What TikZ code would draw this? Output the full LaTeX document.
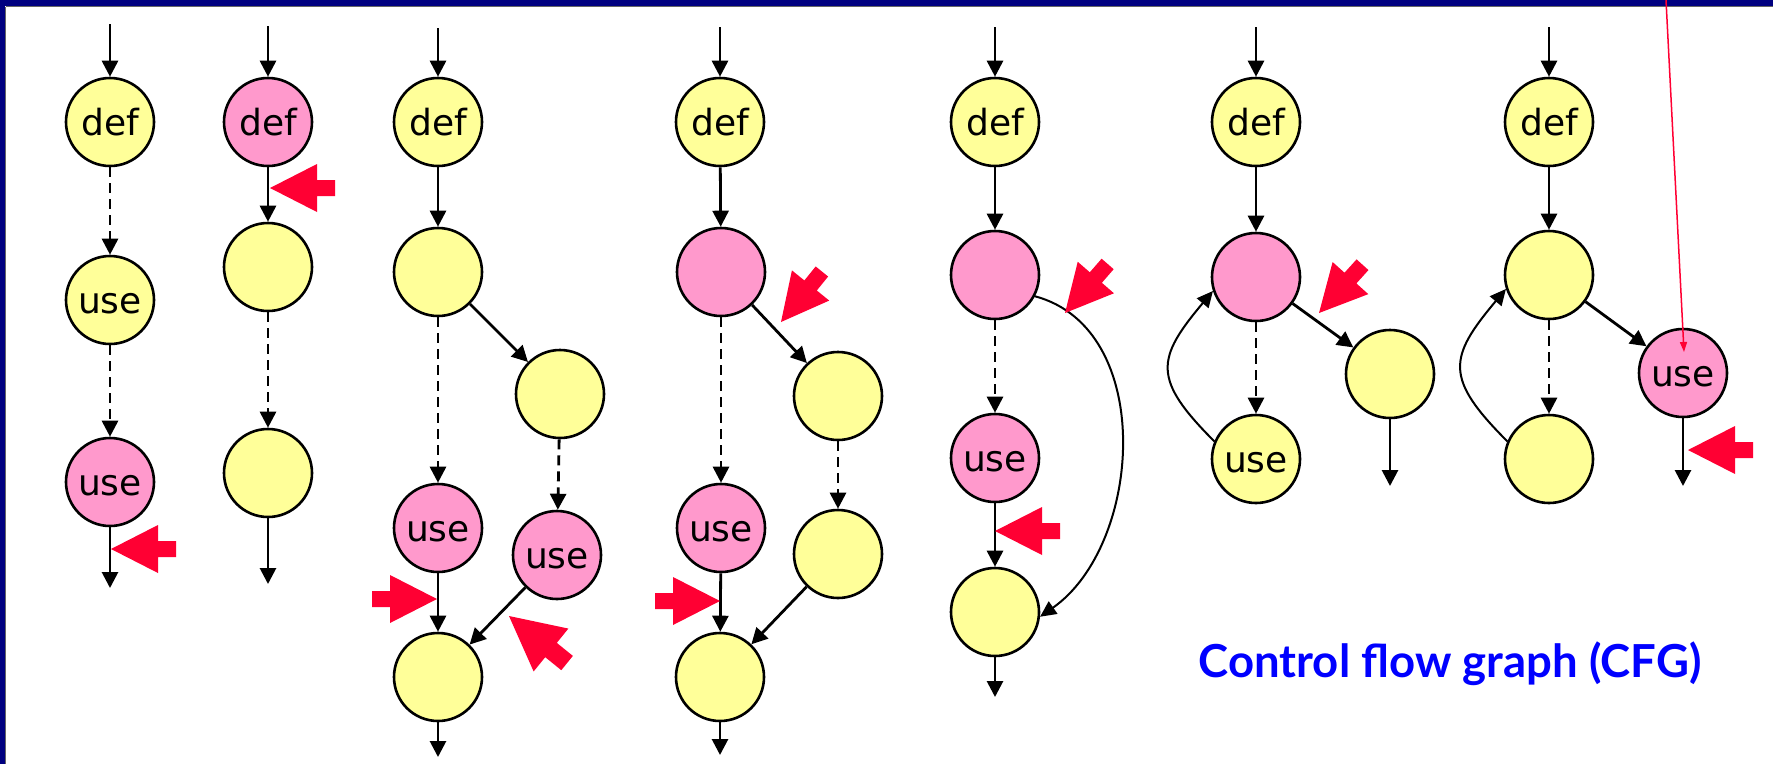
\documentclass[tikz,border=0pt]{standalone}
\usepackage{fontspec}
\usetikzlibrary{arrows.meta}
\newfontfamily\lblfont{DejaVu Sans}
\newfontfamily\capfont{Lato}
\definecolor{nodeyellow}{HTML}{FFFF99}
\definecolor{nodepink}{HTML}{FF99CC}
\definecolor{hintred}{HTML}{FF0033}
\definecolor{framenavy}{HTML}{000080}
\definecolor{captionblue}{HTML}{0000FF}
\tikzset{
  vtx/.style={circle, draw=black, line width=2.6pt, minimum size=88pt, inner sep=0pt,
    font=\lblfont\fontsize{36}{40}\selectfont, text height=27pt, text depth=0pt},
  yel/.style={vtx, fill=nodeyellow},
  pnk/.style={vtx, fill=nodepink},
  flow/.style={line width=2.8pt, -{Triangle[length=16pt,width=16pt]}},
  maybe/.style={flow, dash pattern=on 10pt off 6pt},
  backedge/.style={line width=2pt, -{Triangle[length=16pt,width=15pt]}},
  hint/.style={fill=hintred},
}
% red block arrow: tip at (#2,#3), pointing in direction #4 (degrees), optional scale #1
\newcommand\hintarrow[4][1]{%
  \fill[hint, shift={(#2,#3)}, rotate=#4, scale=#1]
    (0,0) -- (-47,24) -- (-47,8) -- (-65,8) -- (-65,-8) -- (-47,-8) -- (-47,-24) -- cycle;}
\begin{document}
\begin{tikzpicture}[x=1pt, y=-1pt]
\useasboundingbox (0,0) rectangle (1773,764);
\fill[white] (0,0) rectangle (1773,764);
% slide frame
\fill[framenavy] (0,0) rectangle (1773,6);
\fill[framenavy] (0,0) rectangle (5,764);
\draw[black!60, line width=1pt] (5.5,6.5) -- (1773,6.5);
\draw[black!60, line width=1pt] (5.5,6.5) -- (5.5,764);

% ---- graph 1: def -> use -> use
\coordinate (g1in) at (110,24);
\coordinate (g1out) at (110,588);
\node[yel] (g1a) at (110,122) {def};
\node[yel] (g1b) at (110,300) {use};
\node[pnk] (g1c) at (110,482) {use};
\draw[flow] (g1in) -- (g1a);
\draw[maybe] (g1a) -- (g1b);
\draw[maybe] (g1b) -- (g1c);
\draw[flow] (g1c) -- (g1out);
\hintarrow{111}{549}{180}

% ---- graph 2: redefinition
\coordinate (g2in) at (268,26);
\coordinate (g2out) at (268,584);
\node[pnk] (g2a) at (268,122) {def};
\node[yel] (g2b) at (268,267) {};
\node[yel] (g2c) at (268,473) {};
\draw[flow] (g2in) -- (g2a);
\draw[flow] (g2a) -- (g2b);
\draw[maybe] (g2b) -- (g2c);
\draw[flow] (g2c) -- (g2out);
\hintarrow{270}{188}{180}

% ---- graph 3: branch and join, both uses
\coordinate (g3in) at (438,28);
\coordinate (g3out) at (438,757);
\node[yel] (g3a) at (438,122) {def};
\node[yel] (g3b) at (438,272) {};
\node[yel] (g3r) at (560,394) {};
\node[pnk] (g3u) at (438,528) {use};
\node[pnk] (g3v) at (557,555) {use};
\node[yel] (g3j) at (438,677) {};
\draw[flow] (g3in) -- (g3a);
\draw[flow] (g3a) -- (g3b);
\draw[flow] (g3b) -- (g3r);
\draw[maybe] (g3b) -- (g3u);
\draw[maybe] (g3r) -- (g3v);
\draw[flow] (g3u) -- (g3j);
\draw[flow] (g3v) -- (g3j);
\draw[flow] (g3j) -- (g3out);
\hintarrow{437}{599}{0}
\hintarrow[1.15]{509}{616}{141}

% ---- graph 4: branch and join, one use
\coordinate (g4in) at (720,27);
\coordinate (g4out) at (720,755);
\node[yel] (g4a) at (720,122) {def};
\node[pnk] (g4b) at (721,272) {};
\node[yel] (g4r) at (838,396) {};
\node[pnk] (g4u) at (721,528) {use};
\node[yel] (g4v) at (838,554) {};
\node[yel] (g4j) at (720,677) {};
\draw[flow] (g4in) -- (g4a);
\draw[flow] (g4a) -- (g4b);
\draw[flow] (g4b) -- (g4r);
\draw[maybe] (g4b) -- (g4u);
\draw[maybe] (g4r) -- (g4v);
\draw[flow] (g4u) -- (g4j);
\draw[flow] (g4v) -- (g4j);
\draw[flow] (g4j) -- (g4out);
\hintarrow{720}{601}{0}
\hintarrow{781}{322}{231}

% ---- graph 5: bypass edge
\coordinate (g5in) at (995,27);
\coordinate (g5out) at (995,697);
\node[yel] (g5a) at (995,122) {def};
\node[pnk] (g5b) at (995,275) {};
\node[pnk] (g5u) at (995,458) {use};
\node[yel] (g5j) at (995,612) {};
\draw[flow] (g5in) -- (g5a);
\draw[flow] (g5a) -- (g5b);
\draw[maybe] (g5b) -- (g5u);
\draw[flow] (g5u) -- (g5j);
\draw[backedge] (g5b.-28) to[out=-15, in=35] (g5j.-6);
\draw[flow] (g5j) -- (g5out);
\hintarrow{995}{531}{180}
\hintarrow{1065}{313}{229}

% ---- graph 6: loop with use in body
\coordinate (g6in) at (1256,27);
\coordinate (g6out) at (1390,486);
\node[yel] (g6a) at (1256,122) {def};
\node[pnk] (g6b) at (1256,277) {};
\node[yel] (g6r) at (1390,374) {};
\node[yel] (g6u) at (1256,459) {use};
\draw[flow] (g6in) -- (g6a);
\draw[flow] (g6a) -- (g6b);
\draw[flow] (g6b) -- (g6r);
\draw[maybe] (g6b) -- (g6u);
\draw[backedge] (g6u.157) to[out=135, in=-130, looseness=1.5] (g6b.198);
\draw[flow] (g6r) -- (g6out);
\hintarrow{1319}{313}{228}

% ---- graph 7: loop with use at exit
\coordinate (g7in) at (1549,27);
\coordinate (g7out) at (1683,486);
\node[yel] (g7a) at (1549,122) {def};
\node[yel] (g7b) at (1549,275) {};
\node[pnk] (g7r) at (1683,373) {use};
\node[yel] (g7u) at (1549,459) {};
\draw[flow] (g7in) -- (g7a);
\draw[flow] (g7a) -- (g7b);
\draw[flow] (g7b) -- (g7r);
\draw[maybe] (g7b) -- (g7u);
\draw[backedge] (g7u.157) to[out=135, in=-130, looseness=1.5] (g7b.198);
\draw[flow] (g7r) -- (g7out);
\hintarrow{1688}{450}{180}

% thin pointer coming in from above
\coordinate (ptrtop) at (1666,0);
\coordinate (ptrtip) at (1684,352);
\draw[hintred, line width=1.5pt, -{Triangle[length=10pt,width=7pt]}] (ptrtop) -- (ptrtip);

% caption
\node[anchor=base, text=captionblue, font=\capfont\bfseries\fontsize{45.5}{50}\selectfont, inner sep=0pt]
  (cap) at (1450,677) {Control flow graph (CFG)};
\end{tikzpicture}
\end{document}
